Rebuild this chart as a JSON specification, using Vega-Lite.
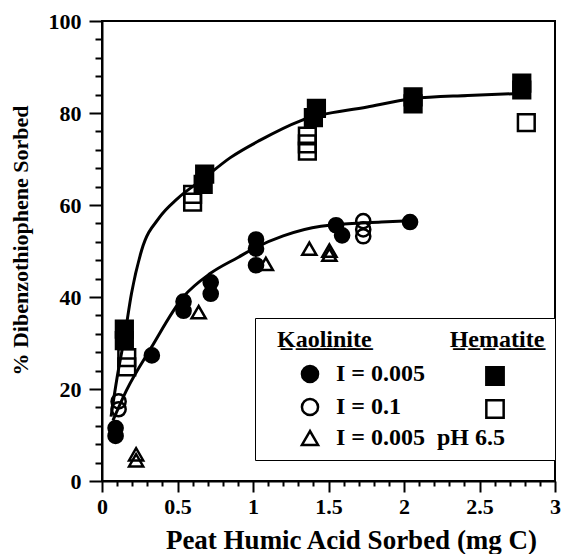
{
  "$schema": "https://vega.github.io/schema/vega-lite/v6.json",
  "width": 453,
  "height": 460,
  "autosize": {"type": "none"},
  "padding": {"left": 102, "top": 21, "right": 8, "bottom": 73},
  "background": "white",
  "config": {
    "font": "Liberation Serif, DejaVu Serif, Liberation Sans, sans-serif",
    "view": {"stroke": "black", "strokeWidth": 2},
    "axis": {
      "labelFont": "Liberation Serif, DejaVu Serif, Liberation Sans, sans-serif", "labelFontWeight": "bold", "labelFontSize": 22, "labelColor": "black",
      "titleFont": "Liberation Serif, DejaVu Serif, Liberation Sans, sans-serif", "titleFontWeight": "bold", "titleColor": "black",
      "domainColor": "black", "domainWidth": 2, "tickColor": "black", "tickWidth": 2,
      "grid": false, "labelOverlap": false, "labelFlush": false
    }
  },
  "datasets": {
    "curves": [
      {"curve": "Hematite fit", "x": 0.06, "y": 14},
      {"curve": "Hematite fit", "x": 0.1, "y": 22.5},
      {"curve": "Hematite fit", "x": 0.15, "y": 31.5},
      {"curve": "Hematite fit", "x": 0.195, "y": 40.7},
      {"curve": "Hematite fit", "x": 0.262, "y": 50.1},
      {"curve": "Hematite fit", "x": 0.383, "y": 57.4},
      {"curve": "Hematite fit", "x": 0.5, "y": 61.4},
      {"curve": "Hematite fit", "x": 0.671, "y": 65.7},
      {"curve": "Hematite fit", "x": 0.85, "y": 70.3},
      {"curve": "Hematite fit", "x": 1.048, "y": 74.1},
      {"curve": "Hematite fit", "x": 1.314, "y": 78.3},
      {"curve": "Hematite fit", "x": 1.757, "y": 81.3},
      {"curve": "Hematite fit", "x": 2.056, "y": 83.1},
      {"curve": "Hematite fit", "x": 2.421, "y": 83.8},
      {"curve": "Hematite fit", "x": 2.73, "y": 84.2},
      {"curve": "Kaolinite fit", "x": 0.073, "y": 13.2},
      {"curve": "Kaolinite fit", "x": 0.162, "y": 19.7},
      {"curve": "Kaolinite fit", "x": 0.328, "y": 29.1},
      {"curve": "Kaolinite fit", "x": 0.538, "y": 40.0},
      {"curve": "Kaolinite fit", "x": 0.716, "y": 45.1},
      {"curve": "Kaolinite fit", "x": 0.9, "y": 48.6},
      {"curve": "Kaolinite fit", "x": 1.02, "y": 50.8},
      {"curve": "Kaolinite fit", "x": 1.2, "y": 53.3},
      {"curve": "Kaolinite fit", "x": 1.45, "y": 55.4},
      {"curve": "Kaolinite fit", "x": 1.85, "y": 56.3},
      {"curve": "Kaolinite fit", "x": 2.04, "y": 56.6}
    ],
    "kaolinite": [
      {"series": "I = 0.005", "x": 0.09, "y": 11.5},
      {"series": "I = 0.005", "x": 0.09, "y": 9.8},
      {"series": "I = 0.005", "x": 0.33, "y": 27.3},
      {"series": "I = 0.005", "x": 0.54, "y": 39.0},
      {"series": "I = 0.005", "x": 0.54, "y": 37.0},
      {"series": "I = 0.005", "x": 0.72, "y": 43.2},
      {"series": "I = 0.005", "x": 0.72, "y": 40.7},
      {"series": "I = 0.005", "x": 1.02, "y": 46.9},
      {"series": "I = 0.005", "x": 1.02, "y": 50.5},
      {"series": "I = 0.005", "x": 1.02, "y": 52.5},
      {"series": "I = 0.005", "x": 1.55, "y": 55.6},
      {"series": "I = 0.005", "x": 1.59, "y": 53.4},
      {"series": "I = 0.005", "x": 2.04, "y": 56.3},
      {"series": "I = 0.1", "x": 0.11, "y": 17.3},
      {"series": "I = 0.1", "x": 0.11, "y": 15.6},
      {"series": "I = 0.1", "x": 1.73, "y": 56.5},
      {"series": "I = 0.1", "x": 1.73, "y": 54.7},
      {"series": "I = 0.1", "x": 1.73, "y": 53.2},
      {"series": "I = 0.005, pH 6.5", "x": 0.226, "y": 5.8},
      {"series": "I = 0.005, pH 6.5", "x": 0.226, "y": 4.5},
      {"series": "I = 0.005, pH 6.5", "x": 0.64, "y": 36.7},
      {"series": "I = 0.005, pH 6.5", "x": 1.085, "y": 47.2},
      {"series": "I = 0.005, pH 6.5", "x": 1.373, "y": 50.5},
      {"series": "I = 0.005, pH 6.5", "x": 1.506, "y": 50.1},
      {"series": "I = 0.005, pH 6.5", "x": 1.506, "y": 49.2}
    ],
    "hematite": [
      {"series": "I = 0.005", "x": 0.148, "y": 33.0},
      {"series": "I = 0.005", "x": 0.148, "y": 30.5},
      {"series": "I = 0.005", "x": 0.67, "y": 64.5},
      {"series": "I = 0.005", "x": 0.68, "y": 66.7},
      {"series": "I = 0.005", "x": 1.40, "y": 79.0},
      {"series": "I = 0.005", "x": 1.42, "y": 81.0},
      {"series": "I = 0.005", "x": 2.06, "y": 82.0},
      {"series": "I = 0.005", "x": 2.06, "y": 83.5},
      {"series": "I = 0.005", "x": 2.78, "y": 85.0},
      {"series": "I = 0.005", "x": 2.78, "y": 86.5},
      {"series": "I = 0.1", "x": 0.164, "y": 26.8},
      {"series": "I = 0.1", "x": 0.164, "y": 24.8},
      {"series": "I = 0.1", "x": 0.6, "y": 62.3},
      {"series": "I = 0.1", "x": 0.6, "y": 60.6},
      {"series": "I = 0.1", "x": 1.36, "y": 75.0},
      {"series": "I = 0.1", "x": 1.36, "y": 73.3},
      {"series": "I = 0.1", "x": 1.36, "y": 71.7},
      {"series": "I = 0.1", "x": 2.81, "y": 77.9}
    ]
  },
  "layer": [
    {
      "data": {"name": "curves"},
      "mark": {"type": "line", "color": "black", "strokeWidth": 3, "interpolate": "monotone"},
      "encoding": {
        "x": {
          "field": "x", "type": "quantitative",
          "scale": {"domain": [0, 3], "nice": false, "zero": false},
          "axis": {
            "orient": "bottom",
            "title": "Peat Humic Acid Sorbed (mg C)",
            "values": [0, 0.5, 1, 1.5, 2, 2.5, 3],
            "labelExpr": "format(datum.value, '~g')",
            "tickSize": 11,
            "labelOverlap": false,
            "labelFlush": false,
            "labelBound": false,
            "labelPadding": 4,
            "titleFontSize": 27,
            "titleX": 249,
            "titleY": 67,
            "titleAlign": "center",
            "titleBaseline": "alphabetic",
            "titleAnchor": "start"
          }
        },
        "y": {
          "field": "y", "type": "quantitative",
          "scale": {"domain": [0, 100], "nice": false, "zero": false},
          "axis": {
            "orient": "left",
            "title": "% Dibenzothiophene Sorbed",
            "values": [0, 20, 40, 60, 80, 100],
            "tickSize": 13,
            "labelOverlap": false,
            "labelPadding": 8,
            "titleFontSize": 22,
            "titleAngle": 270,
            "titleX": -82,
            "titleY": 219,
            "titleAlign": "center",
            "titleBaseline": "middle",
            "titleAnchor": "start"
          }
        },
        "detail": {"field": "curve", "type": "nominal"}
      }
    },
    {
      "data": {"name": "kaolinite"},
      "mark": {"type": "point", "filled": false, "strokeWidth": 2.5, "size": 200, "opacity": 1},
      "encoding": {
        "x": {
          "field": "x", "type": "quantitative",
          "axis": {
            "orient": "bottom", "title": null, "labels": false, "domain": false,
            "values": [0.1,0.2,0.3,0.4,0.6,0.7,0.8,0.9,1.1,1.2,1.3,1.4,1.6,1.7,1.8,1.9,2.1,2.2,2.3,2.4,2.6,2.7,2.8,2.9],
            "tickSize": 5
          }
        },
        "y": {
          "field": "y", "type": "quantitative",
          "axis": {
            "orient": "left", "title": null, "labels": false, "domain": false,
            "values": [4,8,12,16,24,28,32,36,44,48,52,56,64,68,72,76,84,88,92,96],
            "tickSize": 7
          }
        },
        "shape": {
          "field": "series", "type": "nominal",
          "scale": {"domain": ["I = 0.005", "I = 0.1", "I = 0.005, pH 6.5"], "range": ["circle", "circle", "triangle-up"]},
          "legend": {
            "title": "\u200d\u00a0\u00a0K\u0332a\u0332o\u0332l\u0332i\u0332n\u0332i\u0332t\u0332e\u0332\u00a0\u00a0\u00a0\u00a0\u00a0\u00a0\u00a0\u00a0\u00a0\u00a0\u00a0\u00a0\u00a0H\u0332e\u0332m\u0332a\u0332t\u0332i\u0332t\u0332e\u0332",
            "orient": "none", "legendX": 153, "legendY": 297,
            "strokeColor": "black", "fillColor": "white", "padding": 10,
            "titleFont": "Liberation Serif, DejaVu Serif, Liberation Sans, sans-serif", "titleFontSize": 24, "titleFontWeight": "bold", "titleColor": "black", "titlePadding": 10, "titleLimit": 500,
            "labelFont": "Liberation Serif, DejaVu Serif, Liberation Sans, sans-serif", "labelFontSize": 24, "labelFontWeight": "bold", "labelColor": "black", "labelLimit": 400,
            "labelExpr": "replace(datum.label, ', ', '\u00a0\u00a0')",
            "symbolSize": 260, "symbolStrokeWidth": 2.5, "symbolOffset": 33,
            "rowPadding": 5, "labelOffset": 14
          }
        },
        "fill": {
          "field": "series", "type": "nominal",
          "scale": {"domain": ["I = 0.005", "I = 0.1", "I = 0.005, pH 6.5"], "range": ["black", "transparent", "transparent"]},
          "legend": {
            "title": "\u200d\u00a0\u00a0K\u0332a\u0332o\u0332l\u0332i\u0332n\u0332i\u0332t\u0332e\u0332\u00a0\u00a0\u00a0\u00a0\u00a0\u00a0\u00a0\u00a0\u00a0\u00a0\u00a0\u00a0\u00a0H\u0332e\u0332m\u0332a\u0332t\u0332i\u0332t\u0332e\u0332",
            "orient": "none", "legendX": 153, "legendY": 297,
            "strokeColor": "black", "fillColor": "white", "padding": 10,
            "titleFont": "Liberation Serif, DejaVu Serif, Liberation Sans, sans-serif", "titleFontSize": 24, "titleFontWeight": "bold", "titleColor": "black", "titlePadding": 10, "titleLimit": 500,
            "labelFont": "Liberation Serif, DejaVu Serif, Liberation Sans, sans-serif", "labelFontSize": 24, "labelFontWeight": "bold", "labelColor": "black", "labelLimit": 400,
            "labelExpr": "replace(datum.label, ', ', '\u00a0\u00a0')",
            "symbolSize": 260, "symbolStrokeWidth": 2.5, "symbolOffset": 33,
            "rowPadding": 5, "labelOffset": 14
          }
        },
        "stroke": {
          "field": "series", "type": "nominal",
          "scale": {"domain": ["I = 0.005", "I = 0.1", "I = 0.005, pH 6.5"], "range": ["black", "black", "black"]},
          "legend": {
            "title": "\u200d\u00a0\u00a0K\u0332a\u0332o\u0332l\u0332i\u0332n\u0332i\u0332t\u0332e\u0332\u00a0\u00a0\u00a0\u00a0\u00a0\u00a0\u00a0\u00a0\u00a0\u00a0\u00a0\u00a0\u00a0H\u0332e\u0332m\u0332a\u0332t\u0332i\u0332t\u0332e\u0332",
            "orient": "none", "legendX": 153, "legendY": 297,
            "strokeColor": "black", "fillColor": "white", "padding": 10,
            "titleFont": "Liberation Serif, DejaVu Serif, Liberation Sans, sans-serif", "titleFontSize": 24, "titleFontWeight": "bold", "titleColor": "black", "titlePadding": 10, "titleLimit": 500,
            "labelFont": "Liberation Serif, DejaVu Serif, Liberation Sans, sans-serif", "labelFontSize": 24, "labelFontWeight": "bold", "labelColor": "black", "labelLimit": 400,
            "labelExpr": "replace(datum.label, ', ', '\u00a0\u00a0')",
            "symbolSize": 260, "symbolStrokeWidth": 2.5, "symbolOffset": 33,
            "rowPadding": 5, "labelOffset": 14
          }
        }
      }
    },
    {
      "data": {"name": "hematite"},
      "mark": {"type": "point", "filled": false, "strokeWidth": 2.5, "size": 280, "opacity": 1},
      "encoding": {
        "x": {"field": "x", "type": "quantitative", "axis": null},
        "y": {"field": "y", "type": "quantitative", "axis": null},
        "shape": {
          "field": "series", "type": "nominal",
          "scale": {"domain": ["I = 0.005", "I = 0.1"], "range": ["square", "square"]},
          "legend": {
            "title": null, "orient": "none", "legendX": 381, "legendY": 343, "padding": 0,
            "labelExpr": "'\u00a0'", "labelFont": "Liberation Serif, DejaVu Serif, Liberation Sans, sans-serif", "labelFontSize": 24, "labelFontWeight": "bold",
            "symbolSize": 300, "symbolStrokeWidth": 2.5, "rowPadding": 5
          }
        },
        "fill": {
          "field": "series", "type": "nominal",
          "scale": {"domain": ["I = 0.005", "I = 0.1"], "range": ["black", "transparent"]},
          "legend": {
            "title": null, "orient": "none", "legendX": 381, "legendY": 343, "padding": 0,
            "labelExpr": "'\u00a0'", "labelFont": "Liberation Serif, DejaVu Serif, Liberation Sans, sans-serif", "labelFontSize": 24, "labelFontWeight": "bold",
            "symbolSize": 300, "symbolStrokeWidth": 2.5, "rowPadding": 5
          }
        },
        "stroke": {
          "field": "series", "type": "nominal",
          "scale": {"domain": ["I = 0.005", "I = 0.1"], "range": ["black", "black"]},
          "legend": {
            "title": null, "orient": "none", "legendX": 381, "legendY": 343, "padding": 0,
            "labelExpr": "'\u00a0'", "labelFont": "Liberation Serif, DejaVu Serif, Liberation Sans, sans-serif", "labelFontSize": 24, "labelFontWeight": "bold",
            "symbolSize": 300, "symbolStrokeWidth": 2.5, "rowPadding": 5
          }
        }
      }
    }
  ],
  "resolve": {
    "scale": {"shape": "independent", "fill": "independent", "stroke": "independent"},
    "axis": {"x": "independent", "y": "independent"}
  }
}
